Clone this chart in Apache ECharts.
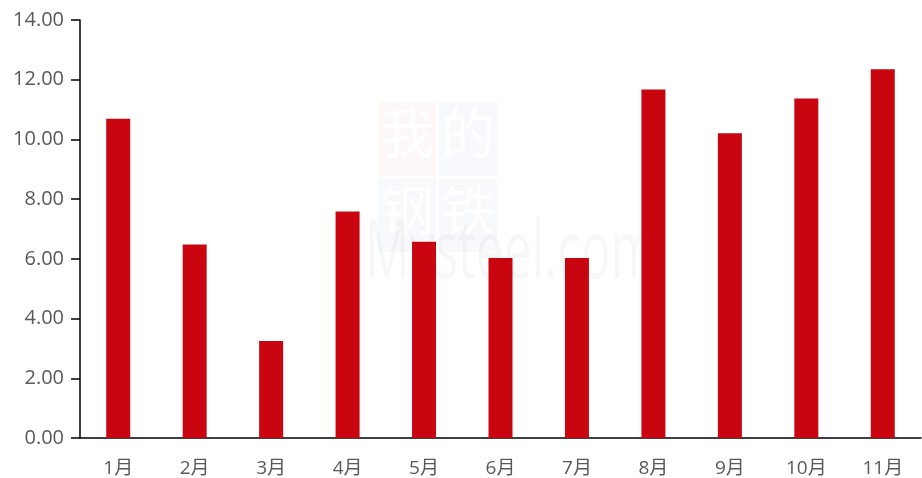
<!DOCTYPE html>
<html><head><meta charset="utf-8">
<script src="https://cdn.jsdelivr.net/npm/echarts@6/dist/echarts.min.js"></script>
<style>html,body{margin:0;padding:0;background:#fff}#c{width:922px;height:478px}</style>
</head><body><div id="c"></div>
<script>
const categories = ['1月','2月','3月','4月','5月','6月','7月','8月','9月','10月','11月'];
const values = [10.69, 6.48, 3.25, 7.59, 6.57, 6.03, 6.03, 11.67, 10.21, 11.37, 12.35];
const yTicks = {min: 0, max: 14, interval: 2};

const chart = echarts.init(document.getElementById('c'));
const font = '"Open Sans", "Noto Sans CJK SC", sans-serif';
chart.setOption({
  animation: false,
  grid: {left: 80, right: 1, top: 20, bottom: 40, containLabel: false},
  graphic: [
    {type:'rect', left:378, top:102, shape:{width:58,height:74}, style:{fill:'rgba(230,60,60,0.045)'}, z:-10},
    {type:'rect', left:439, top:102, shape:{width:58,height:74}, style:{fill:'rgba(60,80,200,0.035)'}, z:-10},
    {type:'rect', left:378, top:179, shape:{width:58,height:73}, style:{fill:'rgba(60,80,200,0.035)'}, z:-10},
    {type:'rect', left:439, top:179, shape:{width:58,height:73}, style:{fill:'rgba(60,80,200,0.035)'}, z:-10},
    {type:'text', left:380, top:106, style:{text:'我', font:'54px "Noto Sans CJK SC"', fill:'#fff'}, z:-9},
    {type:'text', left:441, top:106, style:{text:'的', font:'54px "Noto Sans CJK SC"', fill:'#fff'}, z:-9},
    {type:'text', left:380, top:183, style:{text:'钢', font:'54px "Noto Sans CJK SC"', fill:'#fff'}, z:-9},
    {type:'text', left:441, top:183, style:{text:'铁', font:'54px "Noto Sans CJK SC"', fill:'#fff'}, z:-9},
    {type:'text', x:365, y:215, scaleX:0.62, style:{text:'Mysteel.com', font:'80px "Open Sans"', fill:'rgba(0,0,0,0.03)'}, z:-9}
  ],
  xAxis: {
    type: 'category',
    data: categories,
    axisLine: {lineStyle: {color: '#000', width: 1.5}},
    axisTick: {inside: true, length: 8, lineStyle: {color: '#000', width: 1.5}},
    axisLabel: {color: '#595959', fontSize: 19, fontFamily: font, margin: 21}
  },
  yAxis: {
    type: 'value',
    min: yTicks.min, max: yTicks.max, interval: yTicks.interval,
    axisLine: {show: true, lineStyle: {color: '#000', width: 1.5}},
    axisTick: {show: true, length: 9, lineStyle: {color: '#000', width: 1.5}},
    splitLine: {show: false},
    axisLabel: {color: '#595959', fontSize: 20, fontFamily: font, margin: 16,
      formatter: v => v.toFixed(2)}
  },
  series: [{
    type: 'bar',
    data: values,
    barWidth: 24,
    itemStyle: {color: '#C9060F'}
  }]
});
</script></body></html>
